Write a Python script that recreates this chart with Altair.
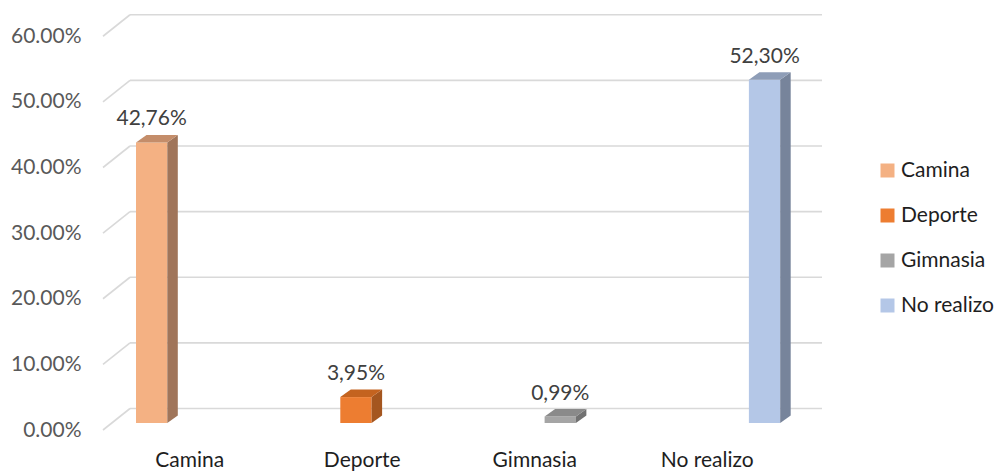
import altair as alt
import pandas as pd

# ---- data ----
categories = ["Camina", "Deporte", "Gimnasia", "No realizo"]
values = [42.76, 3.95, 0.99, 52.30]
tick_values = [0, 10, 20, 30, 40, 50, 60]

# ---- styles ----
front_colors = ["#F4B183", "#ED7D31", "#A5A5A5", "#B4C7E7"]
side_colors = ["#A0755A", "#A4561F", "#727272", "#77849B"]
top_colors = ["#C48D6A", "#C4631F", "#8A8A8A", "#8E9DB7"]
FONT = "Lato"

# ---- layout (plot area, 3D look) ----
W, H = 690, 420
YMAX = 64.0
PX_U = W / 4.0          # px per category unit
PX_P = H / YMAX         # px per percent
BACK_DX = 27 / PX_U     # depth of the back wall
BACK_DY = 21.5 / PX_P
GRID_END = 4.0 + 29 / PX_U
BAR_X0 = 33 / PX_U
BAR_STEP = 204.3 / PX_U
BAR_W = 31.3 / PX_U
BAR_DX = 10.5 / PX_U
BAR_DY = 7.5 / PX_P
BAR_BASE = 7 / PX_P

xs = alt.Scale(domain=[0, 4], nice=False, zero=False)
ys = alt.Scale(domain=[0, YMAX], nice=False, zero=False)

grid_rows = []
for t in tick_values:
    grid_rows.append({"x": BACK_DX, "x2": GRID_END, "y": t + BACK_DY, "y2": t + BACK_DY})
    grid_rows.append({"x": 0.0, "x2": BACK_DX, "y": t, "y2": t + BACK_DY})
grid_df = pd.DataFrame(grid_rows)

front_rows, side_rows, top_rows = [], [], []
for i, (c, v) in enumerate(zip(categories, values)):
    x0 = BAR_X0 + i * BAR_STEP
    x1 = x0 + BAR_W
    y0 = BAR_BASE
    y1 = BAR_BASE + v
    front_rows.append({"cat": c, "x0": x0, "x1": x1, "y0": y0, "y1": y1,
                       "cx": (x0 + x1) / 2,
                       "label": f"{v:.2f}".replace(".", ",") + "%"})
    for k in (0, 1):
        side_rows.append({"cat": c, "x": x1 + k * BAR_DX,
                          "yt": y1 + k * BAR_DY, "yb": y0 + k * BAR_DY,
                          "col": side_colors[i]})
        top_rows.append({"cat": c, "y": y1 + k * BAR_DY,
                         "xl": x0 + k * BAR_DX, "xr": x1 + k * BAR_DX,
                         "col": top_colors[i]})
front_df = pd.DataFrame(front_rows)
side_df = pd.DataFrame(side_rows)
top_df = pd.DataFrame(top_rows)

cat_expr = "[" + ",".join("'" + c + "'" for c in categories) + "][floor(datum.value)]"

x_axis = alt.Axis(
    values=[i + 0.5 for i in range(len(categories))], labelExpr=cat_expr,
    title=None, domain=False, ticks=False, tickSize=0, grid=False,
    labelFont=FONT, labelFontSize=21, labelColor="#1E1E1E", labelPadding=19)
y_axis = alt.Axis(
    values=tick_values, labelExpr="format(datum.value, '.2f') + '%'",
    title=None, domain=False, ticks=False, tickSize=0, grid=False,
    labelFont=FONT, labelFontSize=21, labelColor="#595959", labelPadding=22)

grid = alt.Chart(grid_df).mark_rule(color="#D9D9D9", strokeWidth=1.6).encode(
    x=alt.X("x:Q", scale=xs, axis=x_axis),
    x2="x2:Q",
    y=alt.Y("y:Q", scale=ys, axis=y_axis),
    y2="y2:Q",
)

front = alt.Chart(front_df).mark_rect().encode(
    x=alt.X("x0:Q", scale=xs, axis=x_axis),
    x2="x1:Q",
    y=alt.Y("y0:Q", scale=ys, axis=y_axis),
    y2="y1:Q",
    color=alt.Color("cat:N", scale=alt.Scale(domain=categories, range=front_colors),
                    sort=categories,
                    legend=alt.Legend(title=None, orient="none", legendX=774, legendY=150,
                                      symbolType="square", symbolSize=196,
                                      symbolStrokeWidth=0, labelFont=FONT,
                                      labelFontSize=21, labelColor="#1E1E1E",
                                      labelOffset=3, rowPadding=23, padding=0)),
)

side = alt.Chart(side_df).mark_area(interpolate="linear").encode(
    x=alt.X("x:Q", scale=xs, axis=x_axis),
    y=alt.Y("yt:Q", scale=ys, axis=y_axis),
    y2="yb:Q",
    detail="cat:N",
    fill=alt.Fill("col:N", scale=None),
)

top = alt.Chart(top_df).mark_area(orient="horizontal", interpolate="linear").encode(
    y=alt.Y("y:Q", scale=ys, axis=y_axis),
    x=alt.X("xl:Q", scale=xs, axis=x_axis),
    x2="xr:Q",
    detail="cat:N",
    fill=alt.Fill("col:N", scale=None),
)

text = alt.Chart(front_df).mark_text(font=FONT, fontSize=21, color="#404040",
                                     baseline="alphabetic", dy=-17).encode(
    x=alt.X("cx:Q", scale=xs, axis=x_axis),
    y=alt.Y("y1:Q", scale=ys, axis=y_axis),
    text="label:N",
)

chart = alt.layer(grid, front, side, top, text).properties(
    width=W, height=H,
    autosize=alt.AutoSizeParams(type="none"),
    padding={"left": 103, "top": 10, "right": 1001 - 103 - W, "bottom": 472 - 430},
    background="white",
).configure_view(stroke=None)

chart.save("out.html", embed_options={"renderer": "svg", "actions": False})
